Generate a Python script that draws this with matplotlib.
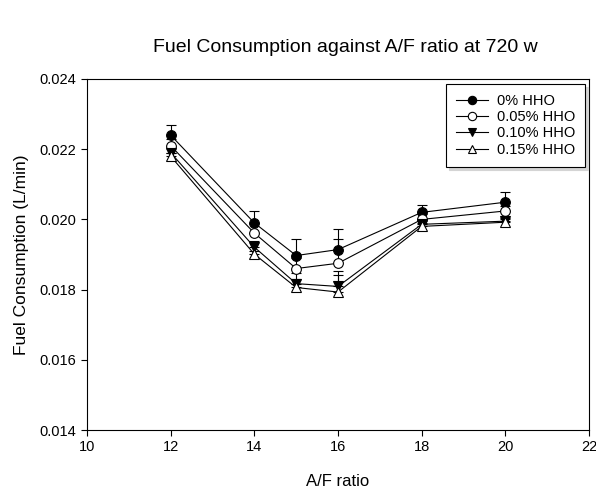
import matplotlib
matplotlib.use("Agg")
import matplotlib.pyplot as plt
from matplotlib.lines import Line2D

plt.rcParams['font.family'] = ['Liberation Sans', 'DejaVu Sans']

# A/F ratio values
af_ratio = [12, 14, 15, 16, 18, 20]

# Fuel consumption (L/min) for each HHO concentration
fc_0 = [0.02240, 0.01990, 0.01897, 0.01914, 0.02020, 0.02049]
fc_005 = [0.02210, 0.01961, 0.01860, 0.01875, 0.02000, 0.02024]
fc_010 = [0.02190, 0.01921, 0.01817, 0.01809, 0.01986, 0.01995]
fc_015 = [0.02180, 0.01901, 0.01806, 0.01793, 0.01980, 0.01992]

# Upper error values (L/min)
err_0 = [0.00028, 0.00034, 0.00046, 0.00060, 0.00020, 0.00028]
err_005 = [0.00020, 0.00030, 0.00030, 0.00070, 0.00015, 0.00013]
err_010 = [0.00015, 0.00017, 0.00030, 0.00045, 0.00010, 0.00010]
err_015 = [0.00010, 0.00010, 0.00025, 0.00050, 0.00010, 0.00010]

labels = ['0% HHO', '0.05% HHO', '0.10% HHO', '0.15% HHO']
x_ticks = [10, 12, 14, 16, 18, 20, 22]
y_ticks = [0.014, 0.016, 0.018, 0.020, 0.022, 0.024]

fig = plt.figure(figsize=(5.96, 4.90), dpi=100)
ax = fig.add_axes([87 / 596, 1 - 430 / 490, (589 - 87) / 596, (430 - 79) / 490])

series = [
    (fc_0, err_0, 'o', 'black'),
    (fc_005, err_005, 'o', 'white'),
    (fc_010, err_010, 'v', 'black'),
    (fc_015, err_015, '^', 'white'),
]

handles = []
for (vals, errs, mk, fcol), lab in zip(series, labels):
    ax.errorbar(af_ratio, vals, yerr=[[0] * len(errs), errs], fmt='none',
                ecolor='black', elinewidth=0.8, capsize=3.7, capthick=0.8, zorder=2)
    ax.plot(af_ratio, vals, color='black', lw=0.8, marker=mk, markersize=7,
            markerfacecolor=fcol, markeredgecolor='black', markeredgewidth=0.8, zorder=3)
    handles.append(Line2D([], [], color='black', lw=0.8, marker=mk, markersize=6,
                          markerfacecolor=fcol, markeredgecolor='black',
                          markeredgewidth=0.8, label=lab))

ax.set_xlim(10, 22)
ax.set_ylim(0.014, 0.024)
ax.set_xticks(x_ticks)
ax.set_yticks(y_ticks)
ax.set_xticklabels([str(t) for t in x_ticks])
ax.set_yticklabels([f'{t:.3f}' for t in y_ticks])
ax.tick_params(direction='out', length=4.5, width=0.8, labelsize=10.5, pad=3,
               top=False, right=False)
for sp in ax.spines.values():
    sp.set_linewidth(0.8)

ax.set_xlabel('A/F ratio', fontsize=12, labelpad=14)
ax.set_ylabel('Fuel Consumption (L/min)', fontsize=12.5, labelpad=8)
fig.text(0.58, 0.904, 'Fuel Consumption against A/F ratio at 720 w',
         ha='center', va='center', fontsize=14)

leg = ax.legend(handles=handles, loc='upper right', bbox_to_anchor=(0.993, 0.986),
                fontsize=10.5, frameon=True, fancybox=False,
                shadow={'color': '#d4d4d4', 'alpha': 1},
                handlelength=2.2, labelspacing=0.15, borderpad=0.7,
                handletextpad=0.6, borderaxespad=0)
leg.get_frame().set_edgecolor('black')
leg.get_frame().set_linewidth(0.8)

fig.savefig('out.png', dpi=100)
